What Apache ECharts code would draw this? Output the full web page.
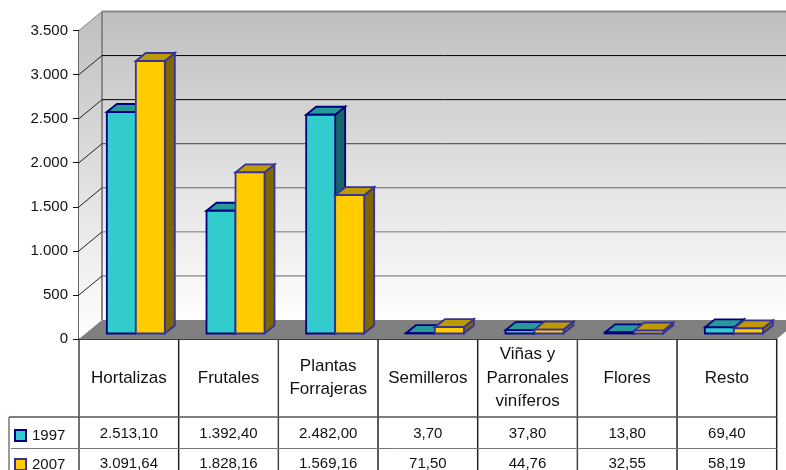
<!DOCTYPE html>
<html><head><meta charset="utf-8">
<style>html,body{margin:0;padding:0;background:#fff}#c{width:786px;height:470px}</style>
<script src="https://cdn.jsdelivr.net/npm/echarts@6/dist/echarts.min.js"></script>
</head><body><div id="c"></div>
<script>
const categories = ['Hortalizas','Frutales','Plantas\nForrajeras','Semilleros','Viñas y\nParronales\nviníferos','Flores','Resto'];
const values1997 = [2513.10,1392.40,2482.00,3.70,37.80,13.80,69.40];
const values2007 = [3091.64,1828.16,1569.16,71.50,44.76,32.55,58.19];
const yTicks = [0,500,1000,1500,2000,2500,3000,3500];
const tickColors = ['#000','#666','#777','#666','#444','#000','#000','#888'];

const FAMILY = '"Liberation Sans", Arial, sans-serif';
const FONT = '15px ' + FAMILY;
const DEPTH_WALL = [23,-19], DEPTH_BAR = [10,-8], BAR_OFFSET = [7,-5.5], BAR_W = 29;
const ROW1 = 434, ROW2 = 464, TABLE_BOTTOM = 470, ROW_LINE1 = 417, ROW_LINE2 = 448.5, TABLE_LEFT = 9;

function fmt(v){
  const p = v.toFixed(2).split('.');
  return p[0].replace(/\B(?=(\d{3})+$)/g,'.') + ',' + p[1];
}
function poly(points, fill, stroke, lw){
  return {type:'polygon', shape:{points}, style:{fill, stroke, lineWidth:lw, lineJoin:'miter'}};
}
function line(x1,y1,x2,y2,stroke,lw){
  return {type:'line', shape:{x1,y1,x2,y2}, style:{stroke, lineWidth:lw}};
}
function barSeries(name, vals, idx, c){
  return {
    name, type:'custom', coordinateSystem:'cartesian2d', z:5, silent:true,
    clip:false, encode:{x:0,y:1},
    itemStyle:{color:c.front,borderColor:c.stroke,borderWidth:2},
    data: vals.map((v,i)=>[i,v]),
    renderItem(params, api){
      const top = api.coord([api.value(0), api.value(1)]);
      const base = api.coord([api.value(0), 0]);
      const x0 = base[0] + BAR_OFFSET[0] + (idx-1)*BAR_W;
      const x1 = x0 + BAR_W;
      const yb = base[1] + BAR_OFFSET[1], yt = top[1] + BAR_OFFSET[1];
      const dx = DEPTH_BAR[0], dy = DEPTH_BAR[1];
      return {type:'group', children:[
        poly([[x1,yt],[x1+dx,yt+dy],[x1+dx,yb+dy],[x1,yb]], c.side, c.stroke, 1.8),
        poly([[x0,yt],[x0+dx,yt+dy],[x1+dx,yt+dy],[x1,yt]], c.topc, c.stroke, 1.8),
        poly([[x0,yb],[x0,yt],[x1,yt],[x1,yb]], c.front, c.stroke, 1.8),
        {type:'text', style:{text:fmt(api.value(1)), x:base[0], y:idx===0?ROW1:ROW2,
          align:'center', verticalAlign:'middle', font:FONT, fill:'#111'}}
      ]};
    }
  };
}
const wallFill = {type:'linear',x:0,y:0,x2:0,y2:1,colorStops:[{offset:0,color:'#bfbfbf'},{offset:1,color:'#ffffff'}]};
function legendFor(name, top){
  return {
    show:true, orient:'vertical', left:14, top, itemWidth:11, itemHeight:11,
    icon:'rect', selectedMode:false, padding:0, data:[name],
    textStyle:{fontSize:15, fontFamily:FAMILY, color:'#111', padding:[1,0,0,1]}
  };
}

const chart = echarts.init(document.getElementById('c'), null, {renderer:'canvas'});
chart.setOption({
  animation:false,
  backgroundColor:'#fff',
  grid:{left:79, top:30.5, width:697.7, height:308.5, containLabel:false},
  legend:[legendFor('1997',428),legendFor('2007',457)],
  xAxis:{
    type:'category', data:categories, boundaryGap:true,
    axisLine:{show:true, lineStyle:{color:'#000',width:1.5}},
    axisTick:{show:false}, splitLine:{show:false},
    axisLabel:{interval:0, margin:39, verticalAlign:'middle', lineHeight:23.5, fontSize:17,
      fontFamily:FAMILY, color:'#111'}
  },
  yAxis:{
    type:'value', min:0, max:3500, interval:500,
    axisLine:{show:true, lineStyle:{color:'#333',width:1.5}},
    axisTick:{show:true, length:6, lineStyle:{color:'#111'}},
    splitLine:{show:false},
    axisLabel:{margin:11, fontSize:15, fontFamily:FAMILY, color:'#111',
      formatter:v=>String(v).replace(/\B(?=(\d{3})+$)/g,'.')}
  },
  series:[
    {
      name:'walls', type:'custom', coordinateSystem:'cartesian2d', z:1, silent:true, clip:false,
      encode:{x:0,y:1},
      data: yTicks.map((t,i)=>[0,t,i]),
      renderItem(params, api){
        const g = params.coordSys;
        const left = g.x, right = g.x+g.width, y = api.coord([0, api.value(1)])[1];
        const dx = DEPTH_WALL[0], dy = DEPTH_WALL[1];
        const children = [];
        if (api.value(2)===0){
          const band = api.size([1,0])[0];
          const t = g.y, b = g.y+g.height;
          children.push(
            {type:'rect', shape:{x:left+dx,y:t+dy,width:right-left,height:g.height}, style:{fill:wallFill}},
            poly([[left,t],[left+dx,t+dy],[left+dx,b+dy],[left,b]], wallFill),
            poly([[left,b],[left+dx,b+dy],[right+dx,b+dy],[right,b]], '#808080'),
            line(left+dx,t+dy,left+dx,b+dy,'#888',2)
          );
          for (let k=1;k<=categories.length;k++){
            const x = left+band*k;
            children.push(line(x,b,x,TABLE_BOTTOM,k%3===2?'#444':'#222',1.5));
          }
          children.push(
            line(left,b,left,TABLE_BOTTOM,'#444',1.5),
            line(TABLE_LEFT,ROW_LINE1,right,ROW_LINE1,'#555',1.5),
            line(TABLE_LEFT,ROW_LINE1,TABLE_LEFT,TABLE_BOTTOM,'#777',1.5),
            line(TABLE_LEFT+2,ROW_LINE2,right,ROW_LINE2,'#777',1)
          );
        }
        const col = tickColors[api.value(2)];
        if (api.value(2)>0){
          const top = api.value(2)===yTicks.length-1;
          children.push(
            line(left+dx,y+dy,right+dx,y+dy,col,top?2:1),
            line(left,y,left+dx,y+dy,top?'#888':'#222',1)
          );
        }
        return {type:'group', children};
      }
    },
    barSeries('1997', values1997, 0, {front:'#33CCCC', topc:'#269999', side:'#1A6666', stroke:'#000080'}),
    barSeries('2007', values2007, 1, {front:'#FFCC00', topc:'#BF9900', side:'#806600', stroke:'#333399'})
  ]
});
</script></body></html>
